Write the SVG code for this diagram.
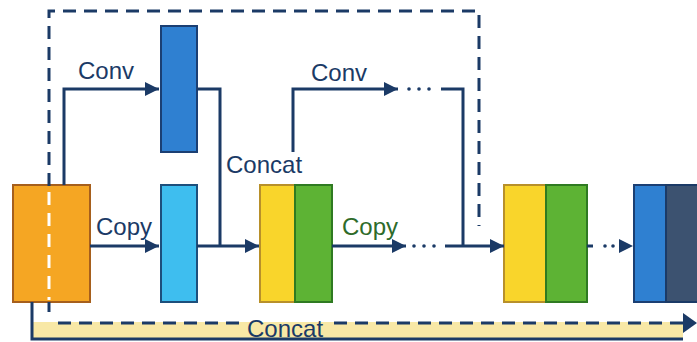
<svg xmlns="http://www.w3.org/2000/svg" width="697" height="342" viewBox="0 0 697 342">
  <style>
    .wire { fill: none; stroke: #1B3A66; stroke-width: 3; }
    .dash { fill: none; stroke: #1B3A66; stroke-width: 3; stroke-dasharray: 13 8; }
    .dash-w { fill: none; stroke: #FFFFFF; stroke-width: 3; stroke-dasharray: 13 8; }
    .dot { fill: #1B3A66; }
    .head { fill: #1B3A66; }
    .lbl { font-family: "Liberation Sans", Arial, sans-serif; font-size: 24px; fill: #1B3A66; }
    .lbl-g { fill: #2E6B2A; }
    .box { stroke-width: 2; }
  </style>
  <defs>
    <marker id="arr" markerUnits="userSpaceOnUse" markerWidth="16" markerHeight="16" refX="15" refY="8" orient="auto">
      <path d="M1,1 L15,8 L1,15 z" fill="#1B3A66"/>
    </marker>
  </defs>

  <rect width="697" height="342" fill="#FFFFFF"/>

  <!-- bottom concat band -->
  <rect x="32" y="322" width="651" height="17" fill="#F8E8A6"/>

  <!-- nodes -->
  <g id="input">
    <rect class="box" x="13" y="185" width="77" height="117" fill="#F5A623" stroke="#A65F1C"/>
  </g>
  <g id="conv-a">
    <rect class="box" x="161" y="26" width="36" height="126" fill="#2F80D1" stroke="#1B3F73"/>
  </g>
  <g id="copy-a">
    <rect class="box" x="161" y="185" width="36" height="117" fill="#3EBEEF" stroke="#1D4F7C"/>
  </g>
  <g id="concat-a">
    <rect class="box" x="260" y="185" width="35" height="117" fill="#F9D52B" stroke="#B8902A"/>
    <rect class="box" x="295" y="185" width="37" height="117" fill="#5DB334" stroke="#2F7A22"/>
  </g>
  <g id="concat-b">
    <rect class="box" x="504" y="185" width="42" height="117" fill="#F9D52B" stroke="#B8902A"/>
    <rect class="box" x="546" y="185" width="41" height="117" fill="#5DB334" stroke="#2F7A22"/>
  </g>
  <g id="output">
    <rect class="box" x="634" y="185" width="32" height="117" fill="#2F80D1" stroke="#1B3F73"/>
    <rect class="box" x="666" y="185" width="34" height="117" fill="#3C5270" stroke="#1B3A66"/>
  </g>

  <!-- connectors -->
  <g id="connectors">
    <!-- dashed skip frame -->
    <path class="dash" d="M49,186 V11 H479 V226"/>
    <path class="dash-w" d="M49,192 V300"/>
    <path class="wire" d="M49,302 V312"/>

    <!-- conv branch -->
    <path class="wire" d="M64,185 V89 H159" marker-end="url(#arr)"/>
    <path class="wire" d="M197,89 H220 V246"/>

    <!-- copy path -->
    <path class="wire" d="M90,246 H159" marker-end="url(#arr)"/>
    <path class="wire" d="M197,246 H259" marker-end="url(#arr)"/>

    <!-- second conv branch -->
    <path class="wire" d="M293,152 V89 H398" marker-end="url(#arr)"/>
    <circle class="dot" cx="409" cy="89" r="1.8"/>
    <circle class="dot" cx="419" cy="89" r="1.8"/>
    <circle class="dot" cx="429" cy="89" r="1.8"/>
    <path class="wire" d="M441,89 H463 V246"/>

    <!-- second copy -->
    <path class="wire" d="M332,246 H406" marker-end="url(#arr)"/>
    <circle class="dot" cx="414" cy="246" r="1.8"/>
    <circle class="dot" cx="424" cy="246" r="1.8"/>
    <circle class="dot" cx="434" cy="246" r="1.8"/>
    <path class="wire" d="M445,246 H504" marker-end="url(#arr)"/>

    <!-- to output -->
    <path class="wire" d="M587,246 H593"/>
    <circle class="dot" cx="605" cy="246" r="1.8"/>
    <circle class="dot" cx="613" cy="246" r="1.8"/>
    <path class="head" d="M619,239 L633,246 L619,253 z"/>

    <!-- long concat -->
    <path class="wire" d="M32,302 V339 H683"/>
    <path class="dash" d="M58,323 H240"/>
    <path class="dash" d="M334,323 H684"/>
    <path class="head" d="M683,313 L697,323 L683,333 z"/>
  </g>

  <!-- labels -->
  <text class="lbl" x="78" y="79">Conv</text>
  <text class="lbl" x="96" y="235">Copy</text>
  <text class="lbl" x="226" y="173">Concat</text>
  <text class="lbl" x="311" y="81">Conv</text>
  <text class="lbl lbl-g" x="342" y="235">Copy</text>
  <text class="lbl" x="247" y="337">Concat</text>
</svg>
